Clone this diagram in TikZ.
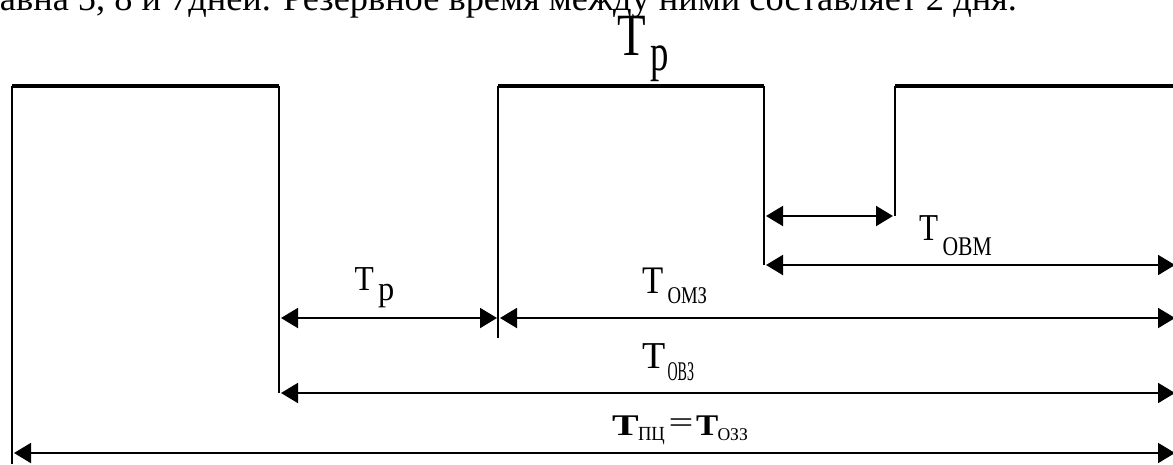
\documentclass[tikz,border=0pt]{standalone}
\usepackage{fontspec}
\usepackage{graphicx}
\setmainfont{Liberation Serif}
\newfontfamily\lblfont{Liberation Serif}
\usetikzlibrary{arrows.meta}

% label glyphs: size (pt), horizontal stretch, text
\newcommand{\lbl}[3]{\scalebox{#2}[1]{\lblfont\fontsize{#1}{#1}\selectfont #3}}
\newcommand{\blbl}[3]{\scalebox{#2}[1]{\lblfont\bfseries\fontsize{#1}{#1}\selectfont #3}}

\tikzset{
  bar/.style={line width=4pt},
  wall/.style={line width=1.3pt},
  dimboth/.style={line width=2pt, {Triangle[length=17pt,width=20pt]}-{Triangle[length=17pt,width=20pt]}},
  lab/.style={inner sep=0pt, outer sep=0pt, anchor=base west},
}

\begin{document}
\begin{tikzpicture}[x=1pt,y=-1pt]
  \useasboundingbox (0,0) rectangle (1173,464);
  \clip (0,0) rectangle (1173,464);
  \fill[white] (0,0) rectangle (1173,464);

  % running text line above the chart
  \node[lab] (txt) at (0,10) {\resizebox{1017pt}{\height}{\fontsize{36}{40}\selectfont авна 5, 8 и 7дней. Резервное время между ними составляет 2 дня.}};

  % corners of the work periods
  \coordinate (b1l) at (12,86);   \coordinate (b1r) at (279,86);
  \coordinate (b2l) at (498,86);  \coordinate (b2r) at (764,86);
  \coordinate (b3l) at (895,86);  \coordinate (b3r) at (1173,86);
  \coordinate (w0b) at (12,464);
  \coordinate (w1b) at (279,393);
  \coordinate (w2b) at (498,338);
  \coordinate (w3b) at (764,265);
  \coordinate (w4b) at (895,216);

  % bars
  \draw[bar] (b1l) -- (b1r);
  \draw[bar] (b2l) -- (b2r);
  \draw[bar] (b3l) -- (b3r);

  % verticals
  \draw[wall] (b1l) -- (w0b);
  \draw[wall] (b1r) -- (w1b);
  \draw[wall] (b2l) -- (w2b);
  \draw[wall] (b2r) -- (w3b);
  \draw[wall] (b3l) -- (w4b);

  % dimension line end points
  \coordinate (s1a) at (766,216);  \coordinate (s1b) at (893,216);
  \coordinate (m1a) at (766,265);  \coordinate (m1b) at (1175,265);
  \coordinate (r1a) at (281,318);  \coordinate (r1b) at (497,318);
  \coordinate (r2a) at (500,318);  \coordinate (r2b) at (1175,318);
  \coordinate (z1a) at (281,393);  \coordinate (z1b) at (1175,393);
  \coordinate (c1a) at (14,453);   \coordinate (c1b) at (1175,453);

  \draw[dimboth] (s1a) -- (s1b);
  \draw[dimboth] (m1a) -- (m1b);
  \draw[dimboth] (r1a) -- (r1b);
  \draw[dimboth] (r2a) -- (r2b);
  \draw[dimboth] (z1a) -- (z1b);
  \draw[dimboth] (c1a) -- (c1b);

  % labels
  \node[lab] (tpT) at (617,55) {\lbl{60}{0.78}{Т}};
  \node[lab] (tpS) at (650,70.5) {\lbl{52.5}{0.7}{р}};

  \node[lab] (rT) at (354.5,290) {\lbl{35}{0.9}{Т}};
  \node[lab] (rS) at (378,300.5) {\lbl{34.5}{0.94}{р}};

  \node[lab] (omT) at (642.5,293) {\lbl{39}{0.89}{Т}};
  \node[lab] (omS) at (667.5,303) {\lbl{24}{0.78}{ОМЗ}};

  \node[lab] (ozT) at (642.5,368) {\lbl{38}{1.0}{Т}};
  \node[lab] (ozS) at (667.5,380) {\lbl{27}{0.52}{ОВЗ}};

  \node[lab] (ovT) at (919.5,240) {\lbl{38}{0.82}{Т}};
  \node[lab] (ovS) at (942.5,255) {\lbl{27}{0.8}{ОВМ}};

  \node[lab] (pcT) at (612,435) {\blbl{30}{1.33}{Т}};
  \node[lab] (pcS) at (638,440) {\lbl{20}{0.93}{ПЦ}};
  \node[lab] (pcE) at (668.7,432.5) {\lbl{30}{1.47}{=}};
  \node[lab] (pcT2) at (696,435) {\blbl{30}{1.11}{Т}};
  \node[lab] (pcS2) at (717.5,440) {\lbl{18}{0.98}{ОЗЗ}};
\end{tikzpicture}
\end{document}
